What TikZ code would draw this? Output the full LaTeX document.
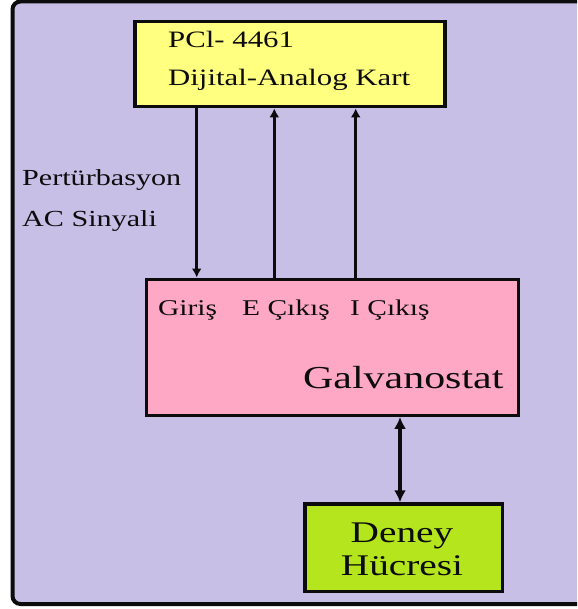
\documentclass[tikz,border=0pt]{standalone}
\usepackage{fontspec}
\setmainfont[FakeStretch=1.31]{Liberation Serif}
\usetikzlibrary{arrows.meta}
\definecolor{lav}{HTML}{C7BFE6}
\definecolor{yel}{HTML}{FFFF80}
\definecolor{pnk}{HTML}{FFA8C6}
\definecolor{grn}{HTML}{B5E61D}
\definecolor{ink}{HTML}{0C0C0C}
\tikzset{
  box/.style={draw=ink, line width=3.4pt, inner sep=0pt, anchor=north west},
  lbl/.style={anchor=base west, inner sep=0pt, text=ink},
  conn/.style={draw=ink, line width=3.5pt},
  tip/.style={-{Latex[length=9pt,width=10pt]}},
}
\begin{document}
\begin{tikzpicture}[x=1pt,y=-1pt]
\useasboundingbox (0,0) rectangle (577,609);
\begin{scope}
\clip (0,0) rectangle (577,609);
\draw[ink, line width=4pt, rounded corners=8pt, fill=lav] (12.5,1.5) rectangle (640,604);
\end{scope}
% boxes
\node[box, fill=yel, minimum width=310pt, minimum height=85pt] (pcl) at (133.3,20) {};
\node[box, fill=pnk, minimum width=371.5pt, minimum height=136pt] (galv) at (145,277.5) {};
\node[box, fill=grn, minimum width=197.7pt, minimum height=87.7pt] (cell) at (303.3,502.3) {};
% texts
\node[lbl, font=\fontsize{23.5}{26}\selectfont] (t1) at (168,48) {PCl- 4461};
\node[lbl, font=\fontsize{23.5}{26}\selectfont] (t2) at (168,86) {Dijital-Analog Kart};
\node[lbl, font=\fontsize{23}{26}\selectfont] (p1) at (22,186) {Pertürbasyon};
\node[lbl, font=\fontsize{23}{26}\selectfont] (p2) at (22,226) {AC Sinyali};
\node[lbl, font=\fontsize{22.5}{26}\selectfont] (g1) at (158,315) {Giriş};
\node[lbl, font=\fontsize{22.5}{26}\selectfont] (g2) at (242,315) {E Çıkış};
\node[lbl, font=\fontsize{22.5}{26}\selectfont] (g3) at (350,315) {I Çıkış};
\node[lbl, font=\fontsize{32}{36}\selectfont] (g4) at (303,388) {Galvanostat};
\node[anchor=base, inner sep=0pt, text=ink, font=\fontsize{30}{34}\selectfont] (d1) at (402,542) {Deney};
\node[anchor=base, inner sep=0pt, text=ink, font=\fontsize{30}{34}\selectfont] (d2) at (402,575) {Hücresi};
% connectors
\coordinate (xa) at (196.7,0);
\coordinate (xb) at (274.3,0);
\coordinate (xc) at (355.7,0);
\coordinate (xd) at (400,0);
\draw[conn, line width=3pt, tip] (pcl.south -| xa) -- (galv.north -| xa);
\draw[conn, tip] (galv.north -| xb) -- (pcl.south -| xb);
\draw[conn, tip] (galv.north -| xc) -- (pcl.south -| xc);
\draw[conn, {Latex[length=12pt,width=12pt]}-{Latex[length=12pt,width=12pt]}] (galv.south -| xd) -- (cell.north -| xd);
\end{tikzpicture}
\end{document}
